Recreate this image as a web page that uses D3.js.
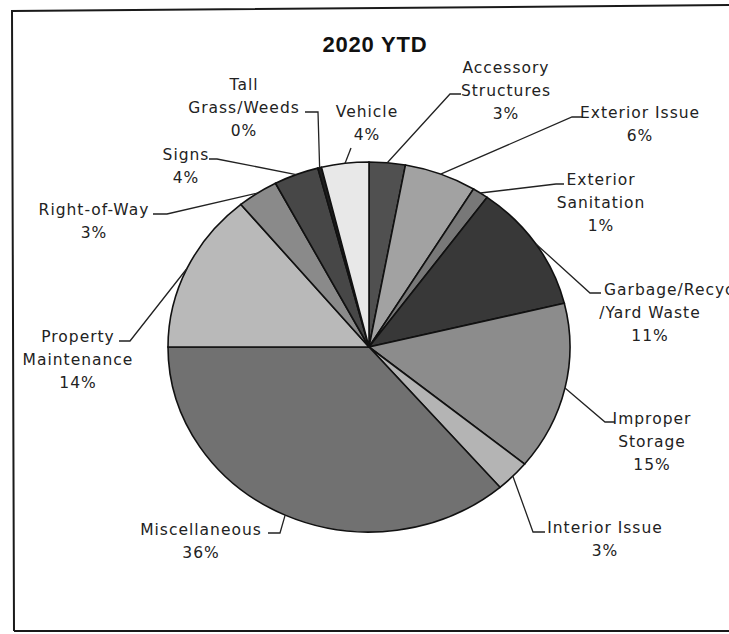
<!DOCTYPE html>
<html>
<head>
<meta charset="utf-8">
<script src="https://cdn.jsdelivr.net/npm/d3@7"></script>
<style>
  html, body { margin: 0; padding: 0; background: #ffffff; }
  svg { display: block; }
  .lbl { font-family: "DejaVu Sans", sans-serif; font-size: 15.5px; fill: #222; letter-spacing: 1px; }
  .title { font-family: "Liberation Sans", Arial, sans-serif; font-weight: bold; font-size: 22px; fill: #111; letter-spacing: 0.8px; }
</style>
</head>
<body>
<script>
// ---- data ----
const categories = [
  "Accessory Structures", "Exterior Issue", "Exterior Sanitation",
  "Garbage/Recycle/Yard Waste", "Improper Storage", "Interior Issue",
  "Miscellaneous", "Property Maintenance", "Right-of-Way", "Signs",
  "Tall Grass/Weeds", "Vehicle"
];
const values = [2.9, 5.8, 1.3, 11.2, 14.7, 2.8, 36.3, 14.0, 3.3, 3.6, 0.3, 3.8];
const labelLines = [
  ["Accessory", "Structures"], ["Exterior Issue"], ["Exterior", "Sanitation"],
  ["Garbage/Recycle", "/Yard Waste"], ["Improper", "Storage"], ["Interior Issue"],
  ["Miscellaneous"], ["Property", "Maintenance"], ["Right-of-Way"], ["Signs"],
  ["Tall", "Grass/Weeds"], ["Vehicle"]
];
const title = "2020 YTD";

// ---- styles / layout ----
const shades = ["#505050", "#a2a2a2", "#787878", "#383838", "#8c8c8c", "#b4b4b4",
                "#717171", "#b9b9b9", "#8a8a8a", "#474747", "#1e1e1e", "#e8e8e8"];
// label layout: centre x, first baseline y, leader start + elbow
const layout = [
  { cx: 506, y: 73,  lead: [[461, 94], [450, 94]] },
  { cx: 640, y: 118, lead: [[583, 117], [572, 117]] },
  { cx: 601, y: 185, lead: [[564, 184], [556, 184]] },
  { cx: 650, y: 295, firstStart: 604, lead: [[601, 293], [590, 293]] },
  { cx: 652, y: 424, lead: [[615, 422], [605, 422]] },
  { cx: 605, y: 533, lead: [[545, 532], [533, 532]] },
  { cx: 201, y: 535, lead: [[268, 533], [280, 533]] },
  { cx: 78,  y: 342, lead: [[119, 341], [130, 341]] },
  { cx: 94,  y: 215, lead: [[153, 214], [167, 214]] },
  { cx: 186, y: 160, lead: [[209, 159], [217, 159]] },
  { cx: 244, y: 90,  lead: [[305, 112], [318, 112]] },
  { cx: 367, y: 117, lead: [[351, 148]] }
];
const lineH = 22.8;

const W = 729, H = 634;
const cx = 369, cy = 347, RX = 201, RY = 185;

const svg = d3.select("body").append("svg").attr("width", W).attr("height", H);

// frame
svg.append("path")
  .attr("d", d3.line()([[14, 631], [12, 11], [740, 5]]))
  .attr("fill", "none").attr("stroke", "#1a1a1a").attr("stroke-width", 2);
svg.append("line").attr("x1", 14).attr("y1", 631).attr("x2", 740).attr("y2", 631)
  .attr("stroke", "#1a1a1a").attr("stroke-width", 2);

// title
svg.append("text").attr("class", "title").attr("x", 375).attr("y", 52)
  .attr("text-anchor", "middle").text(title);

const data = categories.map((c, i) => ({ name: c, v: values[i], i }));
const pie = d3.pie().sort(null).value(d => d.v);
const arcs = pie(data);
const arc = d3.arc().innerRadius(0).outerRadius(RX);

const g = svg.append("g").attr("transform", `translate(${cx},${cy}) scale(1,${RY / RX})`);
g.selectAll("path").data(arcs).join("path")
  .attr("d", arc)
  .attr("fill", d => shades[d.data.i])
  .attr("stroke", "#111")
  .attr("stroke-width", 1.6)
  .attr("vector-effect", "non-scaling-stroke");

// leaders + labels
arcs.forEach(a => {
  const i = a.data.i;
  const L = layout[i];
  const mid = (a.startAngle + a.endAngle) / 2;
  const end = [cx + RX * Math.sin(mid), cy - RY * Math.cos(mid)];
  svg.append("path")
    .attr("d", d3.line()([...L.lead, end]))
    .attr("fill", "none").attr("stroke", "#222").attr("stroke-width", 1.3);

  const lines = [...labelLines[i], Math.round(a.data.v) + "%"];
  lines.forEach((t, k) => {
    const useStart = k === 0 && L.firstStart !== undefined;
    svg.append("text").attr("class", "lbl")
      .attr("x", useStart ? L.firstStart : L.cx)
      .attr("y", L.y + k * lineH)
      .attr("text-anchor", useStart ? "start" : "middle")
      .text(t);
  });
});
</script>
</body>
</html>
